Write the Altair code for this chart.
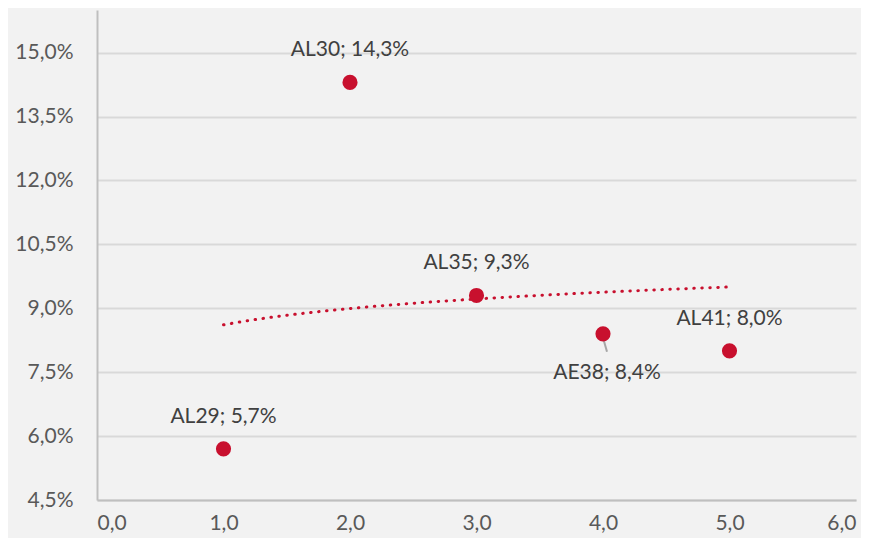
import altair as alt
import pandas as pd

names = ["AL29", "AL30", "AL35", "AE38", "AL41"]
duration = [1.0, 2.0, 3.0, 4.0, 5.0]
yields = [5.7, 14.3, 9.3, 8.4, 8.0]
y_ticks = [4.5, 6.0, 7.5, 9.0, 10.5, 12.0, 13.5, 15.0]
x_ticks = [0, 1, 2, 3, 4, 5, 6]

df = pd.DataFrame({"name": names, "x": duration, "y": yields})

RED = "#c8102e"
FONT = "Source Sans Pro, Lato, Open Sans, sans-serif"
FS = 21

xs = alt.Scale(domain=[0, 6], nice=False, zero=False)
ys = alt.Scale(domain=[4.5, 16.0], nice=False, zero=False)

x_axis = alt.Axis(values=x_ticks, title=None, grid=False, ticks=False,
                  labelExpr="replace(format(datum.value, '.1f'), '.', ',')",
                  labelFontSize=FS, labelColor="#595959", labelFont=FONT,
                  domainColor="#bfbfbf", domainWidth=2, labelPadding=12)
y_axis = alt.Axis(values=y_ticks, title=None, grid=True, gridColor="#d9d9d9",
                  gridWidth=2, ticks=False,
                  labelExpr="replace(format(datum.value, '.1f'), '.', ',') + '%'",
                  labelFontSize=FS, labelColor="#595959", labelFont=FONT,
                  domainColor="#bfbfbf", domainWidth=2, labelPadding=24,
                  minExtent=84, maxExtent=84)

base = alt.Chart(df).transform_calculate(
    label="datum.name + '; ' + replace(format(datum.y, '.1f'), '.', ',') + '%'"
)

trend = alt.Chart(df).transform_regression("x", "y", method="log").mark_line(
    color=RED, strokeWidth=3, strokeDash=[0.5, 7.5], strokeCap="round"
).encode(x=alt.X("x:Q", scale=xs, axis=x_axis), y=alt.Y("y:Q", scale=ys, axis=y_axis))

points = base.mark_point(filled=True, opacity=1, size=230, color=RED).encode(
    x=alt.X("x:Q", scale=xs, axis=x_axis), y=alt.Y("y:Q", scale=ys, axis=y_axis)
)

labels_above = base.transform_filter("datum.name != 'AE38'").mark_text(
    dy=-32, fontSize=FS, font=FONT, color="#404040"
).encode(x="x:Q", y="y:Q", text="label:N")

labels_below = base.transform_filter("datum.name == 'AE38'").mark_text(
    dy=39, dx=4, fontSize=FS, font=FONT, color="#404040"
).encode(x="x:Q", y="y:Q", text="label:N")

leader = base.transform_filter("datum.name == 'AE38'").mark_rule(
    color="#a6a6a6", strokeWidth=2, yOffset=4, y2Offset=18, x2Offset=4
).encode(x="x:Q", y="y:Q", x2="x:Q", y2="y:Q")

chart = alt.layer(trend, leader, points, labels_above, labels_below).properties(
    width=759, height=490, background="#f2f2f2",
    padding={"left": 5, "top": 2, "right": 5, "bottom": 5}
).configure_view(stroke=None, fill="#f2f2f2")

chart.save("out.html", embed_options={"renderer": "svg", "actions": False})
